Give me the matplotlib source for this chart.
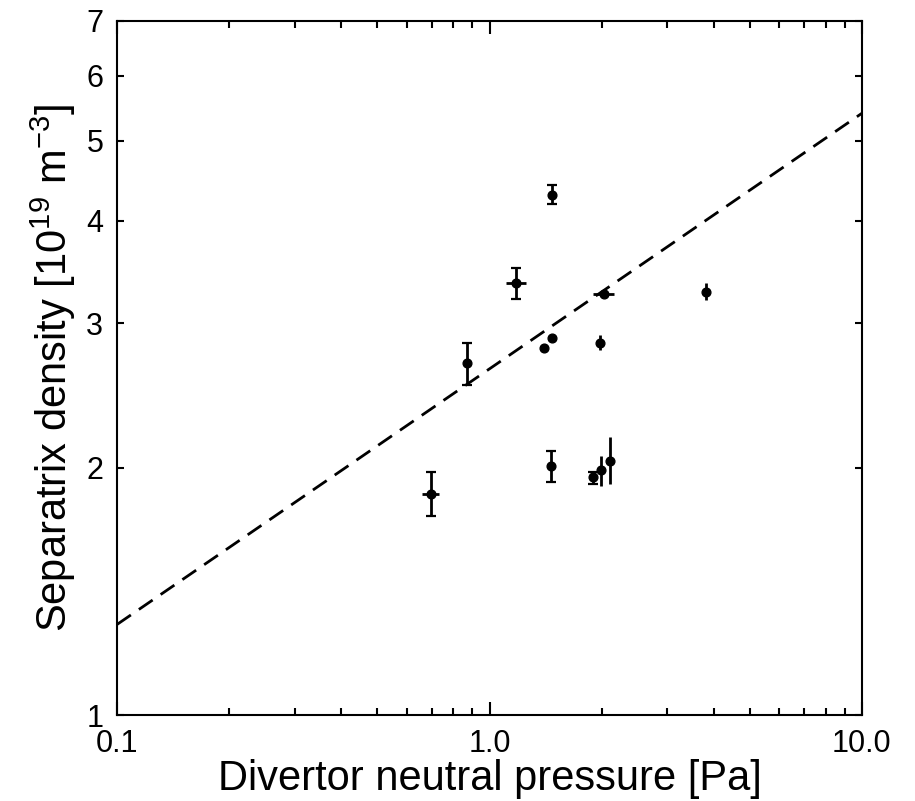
import numpy as np
import matplotlib
matplotlib.use("Agg")
import matplotlib.pyplot as plt

plt.rcParams['font.family'] = ['Liberation Sans', 'DejaVu Sans']
plt.rcParams['mathtext.fontset'] = 'custom'
plt.rcParams['mathtext.rm'] = 'Liberation Sans'
plt.rcParams['mathtext.it'] = 'Liberation Sans'

# DATA
pressure = [1.475, 1.18, 2.03, 3.81, 1.47, 1.40, 1.98, 0.868, 0.697, 1.46, 1.90, 1.99, 2.11]
density  = [4.30, 3.36, 3.26, 3.27, 2.88, 2.80, 2.84, 2.68, 1.86, 2.01, 1.95, 1.99, 2.04]
dens_lo  = [0.11, 0.15, 0.02, 0.07, 0.02, 0.03, 0.06, 0.16, 0.11, 0.09, 0.04, 0.09, 0.13]
dens_hi  = [0.12, 0.14, 0.02, 0.09, 0.02, 0.03, 0.06, 0.16, 0.115, 0.09, 0.03, 0.08, 0.14]
pres_lo  = [0.03, 0.07, 0.13, 0.0, 0.02, 0.0, 0.03, 0.0, 0.037, 0.0, 0.0, 0.0, 0.0]
pres_hi  = [0.03, 0.07, 0.13, 0.0, 0.02, 0.0, 0.03, 0.0, 0.033, 0.0, 0.0, 0.0, 0.0]
# which vertical bars show end caps in the original
capped = [True, True, False, False, False, False, False, True, True, True, True, False, False]

# power-law fit n = a * p^b
fit_a = 2.64
fit_b = 0.311

xticks = [0.1, 1.0, 10.0]
xticklabels = ['0.1', '1.0', '10.0']
yticks = [1, 2, 3, 4, 5, 6, 7]

fig = plt.figure(figsize=(9.15, 8.01), dpi=100)
ax = fig.add_axes([0.128, 0.107, 0.814, 0.867])

p_line = np.array([0.1, 10.0])
ax.plot(p_line, fit_a * p_line**fit_b, color='black', lw=2.0,
        dashes=(6, 3.5))

p = np.array(pressure)
n = np.array(density)
lo = np.array(dens_lo)
hi = np.array(dens_hi)
c = np.array(capped)

# horizontal bars, no caps
ax.errorbar(p, n, xerr=[pres_lo, pres_hi], fmt='none', ecolor='black',
            elinewidth=2.0, capsize=0)
# vertical bars with and without caps
ax.errorbar(p[c], n[c], yerr=[lo[c], hi[c]], fmt='none', ecolor='black',
            elinewidth=2.0, capsize=3.3, capthick=1.6)
ax.errorbar(p[~c], n[~c], yerr=[lo[~c], hi[~c]], fmt='none', ecolor='black',
            elinewidth=2.0, capsize=0)
ax.plot(p, n, 'o', color='black', ms=6.3, zorder=5)

ax.set_xscale('log')
ax.set_yscale('log')
ax.set_xlim(0.1, 10.0)
ax.set_ylim(1, 7)

ax.set_xticks(xticks)
ax.set_xticklabels(xticklabels)
ax.set_yticks(yticks)
ax.set_yticklabels([str(v) for v in yticks])
ax.yaxis.set_minor_locator(matplotlib.ticker.NullLocator())

ax.tick_params(which='both', direction='in', top=True, right=True,
               labelsize=22, width=1.5, pad=10)
ax.tick_params(axis='x', which='major', length=9.5)
ax.tick_params(axis='x', which='minor', length=5)
ax.tick_params(axis='y', which='major', length=5)

for s in ax.spines.values():
    s.set_linewidth(1.5)

ax.set_xlabel('Divertor neutral pressure [Pa]', fontsize=30, labelpad=0)
ax.set_ylabel('Separatrix density [10$^{19}$ m$^{-3}$]', fontsize=30, labelpad=6)

fig.savefig('out.png', dpi=100)
